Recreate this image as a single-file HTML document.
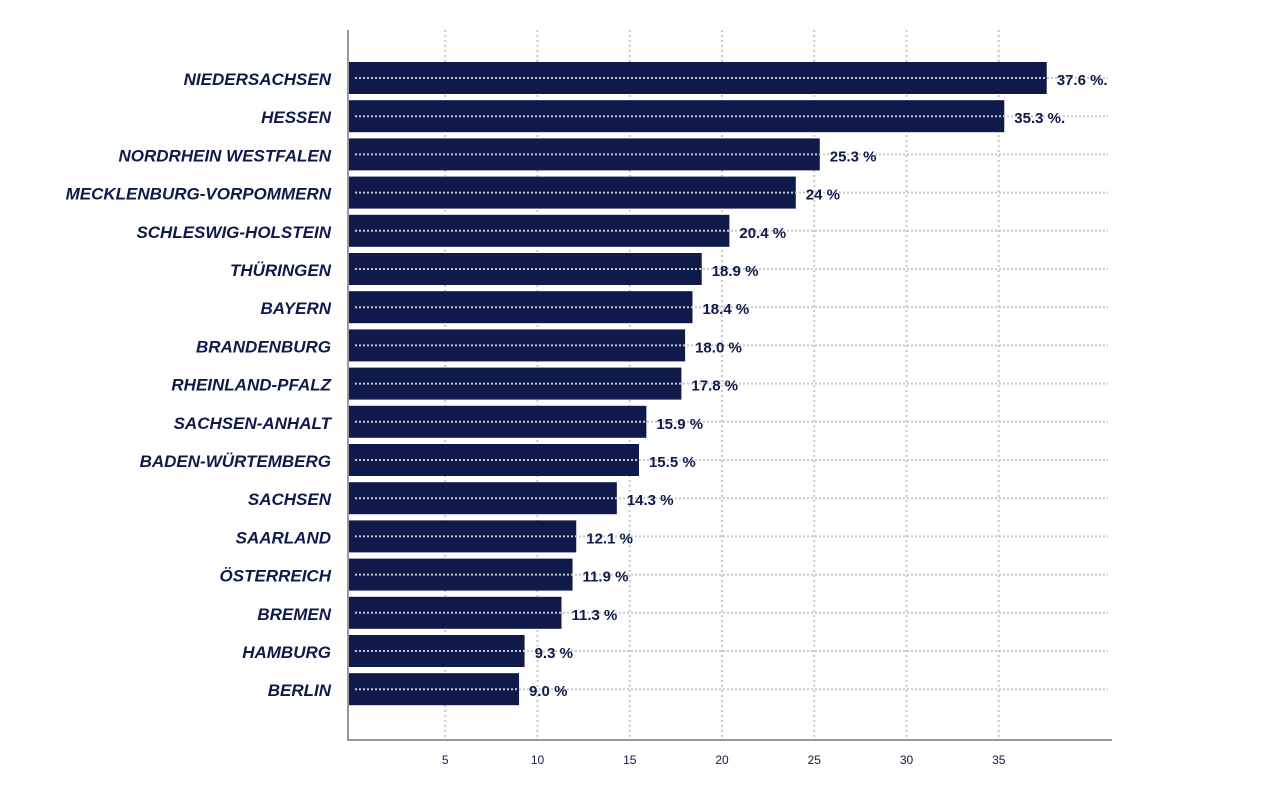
<!DOCTYPE html>
<html><head><meta charset="utf-8"><style>
body{margin:0;background:#fff;font-family:"Liberation Sans",sans-serif}
</style></head><body>
<svg id="c" width="1280" height="800"></svg>
<script>
const categories=["NIEDERSACHSEN","HESSEN","NORDRHEIN WESTFALEN","MECKLENBURG-VORPOMMERN","SCHLESWIG-HOLSTEIN","THÜRINGEN","BAYERN","BRANDENBURG","RHEINLAND-PFALZ","SACHSEN-ANHALT","BADEN-WÜRTEMBERG","SACHSEN","SAARLAND","ÖSTERREICH","BREMEN","HAMBURG","BERLIN"];
const values=[37.6,35.3,25.3,24,20.4,18.9,18.4,18.0,17.8,15.9,15.5,14.3,12.1,11.9,11.3,9.3,9.0];
const valueLabels=["37.6 %.","35.3 %.","25.3 %","24 %","20.4 %","18.9 %","18.4 %","18.0 %","17.8 %","15.9 %","15.5 %","14.3 %","12.1 %","11.9 %","11.3 %","9.3 %","9.0 %"];
const ticks=[5,10,15,20,25,30,35];
const svg=document.getElementById('c');
const NS='http://www.w3.org/2000/svg';
const x0=353,scale=18.45,xLeft=349;
const x=v=>x0+v*scale;
const y=i=>62+i*38.2;
function mk(t,a){const e=document.createElementNS(NS,t);for(const k in a)e.setAttribute(k,a[k]);svg.appendChild(e);return e;}
ticks.forEach(t=>{
 const l=mk('line',{x1:x(t),x2:x(t),y1:30,y2:740,stroke:'#c8c8c8','stroke-width':2,'stroke-dasharray':'2,3'});
 
 
 const tx=mk('text',{x:x(t),y:764,'text-anchor':'middle','font-size':12,fill:'#0d1a4a'});
 tx.textContent=t;
 
 
});
categories.forEach((c,i)=>{
 const yy=y(i);
 const r=mk('rect',{x:xLeft,y:yy,width:x(values[i])-xLeft,height:32,fill:'#0f1a4b'});
 
 
 const g=mk('line',{x1:355,x2:1108,y1:yy+16,y2:yy+16,stroke:'#c8c8c8','stroke-width':2,'stroke-dasharray':'2,2'});
 
 
 const lb=mk('text',{x:331,y:yy+23,'text-anchor':'end','font-size':17,'font-weight':'bold','font-style':'italic',fill:'#0d1a4a'});
 lb.textContent=c;
 
 
 const vl=mk('text',{x:x(values[i])+10,y:yy+23,'font-size':15,'font-weight':'bold',fill:'#0d1a4a'});
 vl.textContent=valueLabels[i];
 
 
});
const ay=mk('line',{x1:348,x2:348,y1:30,y2:741,stroke:'#999','stroke-width':2});


const ax=mk('line',{x1:347,x2:1112,y1:740,y2:740,stroke:'#999','stroke-width':2});


</script>
</body></html>
